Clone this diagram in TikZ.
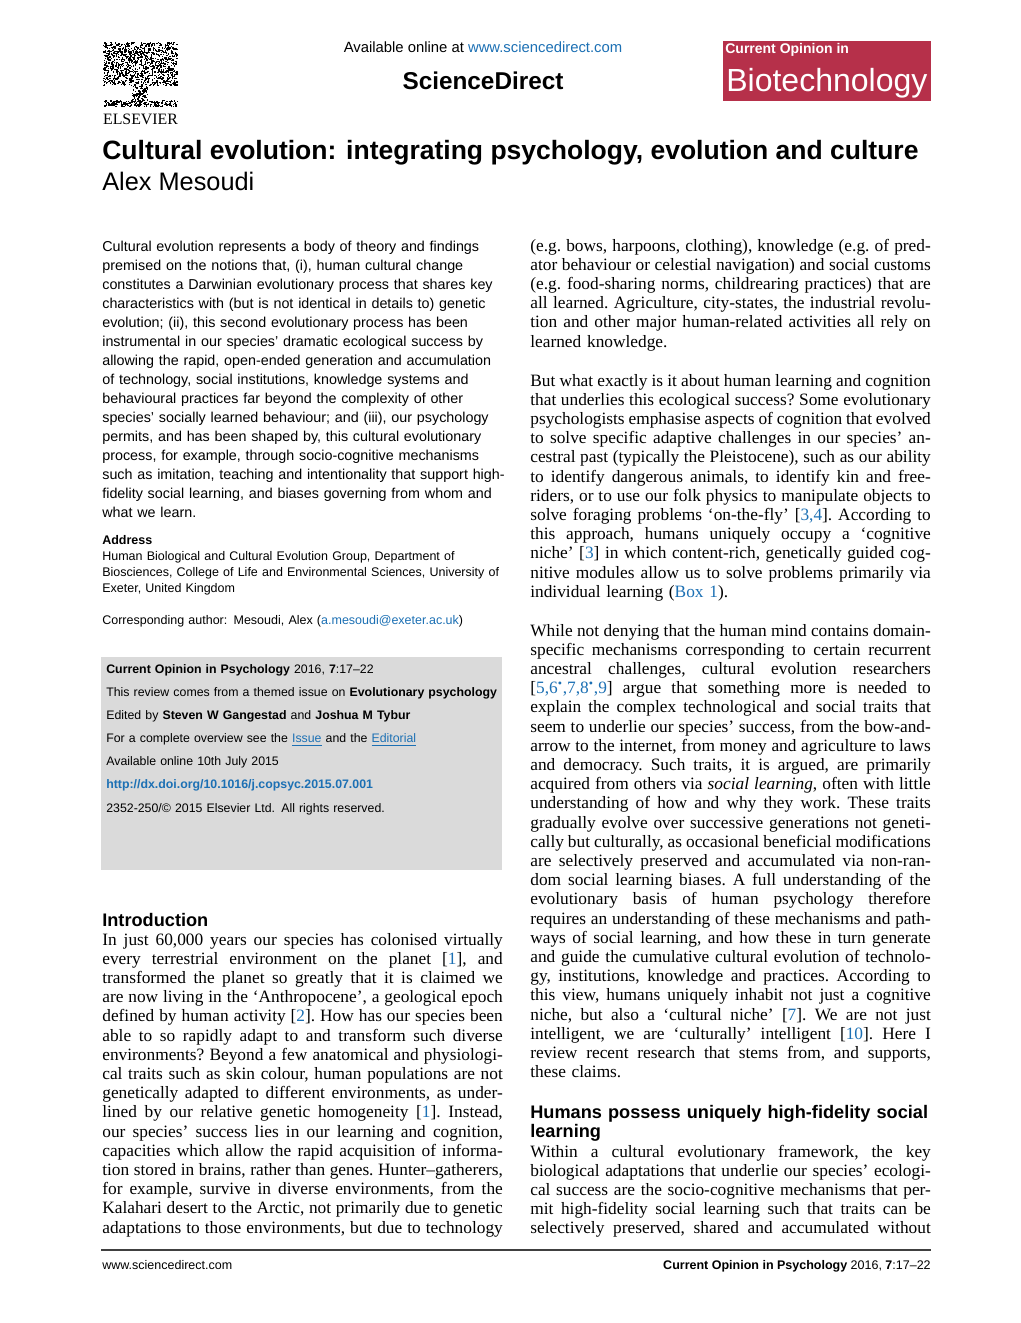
\documentclass[tikz,border=0pt]{standalone}
\usepackage{fontspec}
\setmainfont{Liberation Serif}
\setsansfont{Liberation Sans}
\definecolor{linkblue}{RGB}{28,112,180}
\definecolor{coboxred}{RGB}{182,48,74}
\definecolor{infogray}{RGB}{218,218,218}
\newlength\colw
\setlength\colw{240.3pt}
\newcommand\jlspace{\frenchspacing\spaceskip=0.25em plus 1em minus 0.07em\relax}
\newcommand\jl[1]{\makebox[\colw][s]{\jlspace#1}\\}
\newcommand\jlend[1]{\makebox[\colw][s]{\jlspace#1}}
\newcommand\rf[1]{{\color{linkblue}#1}}
\lineskiplimit=-100pt

\begin{document}
\begin{tikzpicture}[x=0.6pt,y=-0.6pt,
		bodytext/.style={font=\fontsize{10.4}{11.52}\selectfont, text width=\colw,
			inner sep=0pt, anchor=base west},
		abstracttext/.style={font=\sffamily\fontsize{8.6}{11.44}\selectfont, text width=260pt,
			inner sep=0pt, anchor=base west, align=left},
		smalltext/.style={font=\sffamily\fontsize{7.5}{9.6}\selectfont, text width=260pt,
			inner sep=0pt, anchor=base west, align=left},
		infotext/.style={font=\sffamily\fontsize{7.4}{13.9}\selectfont, text width=260pt,
			inner sep=0pt, anchor=base west, align=left},
		sechead/.style={font=\sffamily\bfseries\fontsize{10.9}{11.4}\selectfont, text width=260pt,
			inner sep=0pt, anchor=base west, align=left},
		foottext/.style={font=\sffamily\fontsize{7.5}{9}\selectfont, inner sep=0pt}]
		
		\fill[white] (0,0) rectangle (1020,1323);
		\useasboundingbox (0,0) rectangle (1020,1323);
		
		% publisher logo, the tree drawn as noise
		\pgfmathsetseed{11}
		\foreach \i in {1,...,1100}{
			\pgfmathsetmacro\lx{103+74*rnd}
			\pgfmathsetmacro\ly{42+43*rnd}
			\fill (\lx,\ly) rectangle ++(1.3,1.3);
		}
		\foreach \i in {1,...,110}{
			\pgfmathsetmacro\lx{132+15*rnd}
			\pgfmathsetmacro\ly{84+17*rnd}
			\fill (\lx,\ly) rectangle ++(1.3,1.3);
		}
		\foreach \i in {1,...,220}{
			\pgfmathsetmacro\lx{104+73*rnd}
			\pgfmathsetmacro\ly{100+6*rnd}
			\fill (\lx,\ly) rectangle ++(1.3,1.3);
		}
		\node[font=\fontsize{9.5}{10}\selectfont, inner sep=0pt, anchor=base] (elsname) at (140.5,125) {ELSEVIER};
		
		% header
		\node[font=\sffamily\fontsize{8.9}{10}\selectfont, inner sep=0pt, anchor=base] (avail) at (483,53)
			{Available online at \textcolor{linkblue}{www.sciencedirect.com}};
		\node[font=\sffamily\bfseries\fontsize{14.6}{16}\selectfont, inner sep=0pt, anchor=base] (sdname) at (483,90)
			{ScienceDirect};
		\fill[coboxred] (723,41) rectangle (931,101);
		\node[font=\sffamily\bfseries\fontsize{8.4}{9}\selectfont, text=white, inner sep=0pt, anchor=base west] (coname) at (725,54)
			{Current Opinion in};
		\node[font=\sffamily\fontsize{19.2}{20}\selectfont, text=white, inner sep=0pt, anchor=base west] (cojournal) at (726,92)
			{Biotechnology};
		
		% title and author
		\node[font=\sffamily\bfseries\fontsize{15.9}{18}\selectfont, inner sep=0pt, anchor=base west] (title) at (102,160)
			{Cultural evolution: integrating psychology, evolution and culture};
		\node[font=\sffamily\fontsize{15.2}{18}\selectfont, inner sep=0pt, anchor=base west] (author) at (102,190)
			{Alex Mesoudi};
		
		% abstract
		\node[abstracttext] (abstract) at (102,251) {Cultural evolution represents a body of theory and findings\\
			premised on the notions that, (i), human cultural change\\
			constitutes a Darwinian evolutionary process that shares key\\
			characteristics with (but is not identical in details to) genetic\\
			evolution; (ii), this second evolutionary process has been\\
			instrumental in our species’ dramatic ecological success by\\
			allowing the rapid, open-ended generation and accumulation\\
			of technology, social institutions, knowledge systems and\\
			behavioural practices far beyond the complexity of other\\
			species’ socially learned behaviour; and (iii), our psychology\\
			permits, and has been shaped by, this cultural evolutionary\\
			process, for example, through socio-cognitive mechanisms\\
			such as imitation, teaching and intentionality that support high-\\
			fidelity social learning, and biases governing from whom and\\
			what we learn.};
		
		\node[smalltext] (address) at (102,544) {\textbf{Address}\\
			Human Biological and Cultural Evolution Group, Department of\\
			Biosciences, College of Life and Environmental Sciences, University of\\
			Exeter, United Kingdom};
		\node[smalltext] (corresp) at (102,624)
			{Corresponding author: Mesoudi, Alex (\textcolor{linkblue}{a.mesoudi@exeter.ac.uk})};
		
		% info box
		\fill[infogray] (101,657) rectangle (502,870);
		\node[infotext] (info) at (106,673) {\textbf{Current Opinion in Psychology} 2016, \textbf{7}:17–22\\
			This review comes from a themed issue on \textbf{Evolutionary psychology}\\
			Edited by \textbf{Steven W Gangestad} and \textbf{Joshua M Tybur}\\
			For a complete overview see the \textcolor{linkblue}{\underline{Issue}} and the \textcolor{linkblue}{\underline{Editorial}}\\
			Available online 10th July 2015\\
			\textcolor{linkblue}{\textbf{http://dx.doi.org/10.1016/j.copsyc.2015.07.001}}\\
			2352-250/© 2015 Elsevier Ltd. All rights reserved.};
		
		% left column
		\node[sechead] (introhead) at (102,926) {Introduction};
		\node[bodytext] (intro) at (102,945) {\jl{In just 60,000 years our species has colonised virtually}
			\jl{every terrestrial environment on the planet [\rf{1}], and}
			\jl{transformed the planet so greatly that it is claimed we}
			\jl{are now living in the ‘Anthropocene’, a geological epoch}
			\jl{defined by human activity [\rf{2}]. How has our species been}
			\jl{able to so rapidly adapt to and transform such diverse}
			\jl{environments? Beyond a few anatomical and physiologi-}
			\jl{cal traits such as skin colour, human populations are not}
			\jl{genetically adapted to different environments, as under-}
			\jl{lined by our relative genetic homogeneity [\rf{1}]. Instead,}
			\jl{our species’ success lies in our learning and cognition,}
			\jl{capacities which allow the rapid acquisition of informa-}
			\jl{tion stored in brains, rather than genes. Hunter–gatherers,}
			\jl{for example, survive in diverse environments, from the}
			\jl{Kalahari desert to the Arctic, not primarily due to genetic}
			\jlend{adaptations to those environments, but due to technology}};
		
		% right column
		\node[bodytext] (paraone) at (530,251) {\jl{(e.g. bows, harpoons, clothing), knowledge (e.g. of pred-}
			\jl{ator behaviour or celestial navigation) and social customs}
			\jl{(e.g. food-sharing norms, childrearing practices) that are}
			\jl{all learned. Agriculture, city-states, the industrial revolu-}
			\jl{tion and other major human-related activities all rely on}
			learned knowledge.};
		\node[bodytext] (paratwo) at (530,386) {\jl{But what exactly is it about human learning and cognition}
			\jl{that underlies this ecological success? Some evolutionary}
			\jl{psychologists emphasise aspects of cognition that evolved}
			\jl{to solve specific adaptive challenges in our species’ an-}
			\jl{cestral past (typically the Pleistocene), such as our ability}
			\jl{to identify dangerous animals, to identify kin and free-}
			\jl{riders, or to use our folk physics to manipulate objects to}
			\jl{solve foraging problems ‘on-the-fly’ [\rf{3,4}]. According to}
			\jl{this approach, humans uniquely occupy a ‘cognitive}
			\jl{niche’ [\rf{3}] in which content-rich, genetically guided cog-}
			\jl{nitive modules allow us to solve problems primarily via}
			individual learning (\rf{Box 1}).};
		\node[bodytext] (parathree) at (530,636) {\jl{While not denying that the human mind contains domain-}
			\jl{specific mechanisms corresponding to certain recurrent}
			\jl{ancestral challenges, cultural evolution researchers}
			\jl{[\rf{5,6\textsuperscript{•},7,8\textsuperscript{•},9}] argue that something more is needed to}
			\jl{explain the complex technological and social traits that}
			\jl{seem to underlie our species’ success, from the bow-and-}
			\jl{arrow to the internet, from money and agriculture to laws}
			\jl{and democracy. Such traits, it is argued, are primarily}
			\jl{acquired from others via \textit{social learning}, often with little}
			\jl{understanding of how and why they work. These traits}
			\jl{gradually evolve over successive generations not geneti-}
			\jl{cally but culturally, as occasional beneficial modifications}
			\jl{are selectively preserved and accumulated via non-ran-}
			\jl{dom social learning biases. A full understanding of the}
			\jl{evolutionary basis of human psychology therefore}
			\jl{requires an understanding of these mechanisms and path-}
			\jl{ways of social learning, and how these in turn generate}
			\jl{and guide the cumulative cultural evolution of technolo-}
			\jl{gy, institutions, knowledge and practices. According to}
			\jl{this view, humans uniquely inhabit not just a cognitive}
			\jl{niche, but also a ‘cultural niche’ [\rf{7}]. We are not just}
			\jl{intelligent, we are ‘culturally’ intelligent [\rf{10}]. Here I}
			\jl{review recent research that stems from, and supports,}
			these claims.};
		\node[sechead] (socialhead) at (530,1118) {Humans possess uniquely high-fidelity social\\learning};
		\node[bodytext] (parafour) at (530,1157) {\jl{Within a cultural evolutionary framework, the key}
			\jl{biological adaptations that underlie our species’ ecologi-}
			\jl{cal success are the socio-cognitive mechanisms that per-}
			\jl{mit high-fidelity social learning such that traits can be}
			\jlend{selectively preserved, shared and accumulated without}};
		
		% footer
		\draw[line width=0.8pt, black!75] (101,1250) -- (931,1250);
		\node[foottext, anchor=base west] (footsite) at (102,1269) {www.sciencedirect.com};
		\node[foottext, anchor=base east] (footref) at (931,1269)
			{\textbf{Current Opinion in Psychology} 2016, \textbf{7}:17–22};
		
		\end{tikzpicture}
\end{document}
